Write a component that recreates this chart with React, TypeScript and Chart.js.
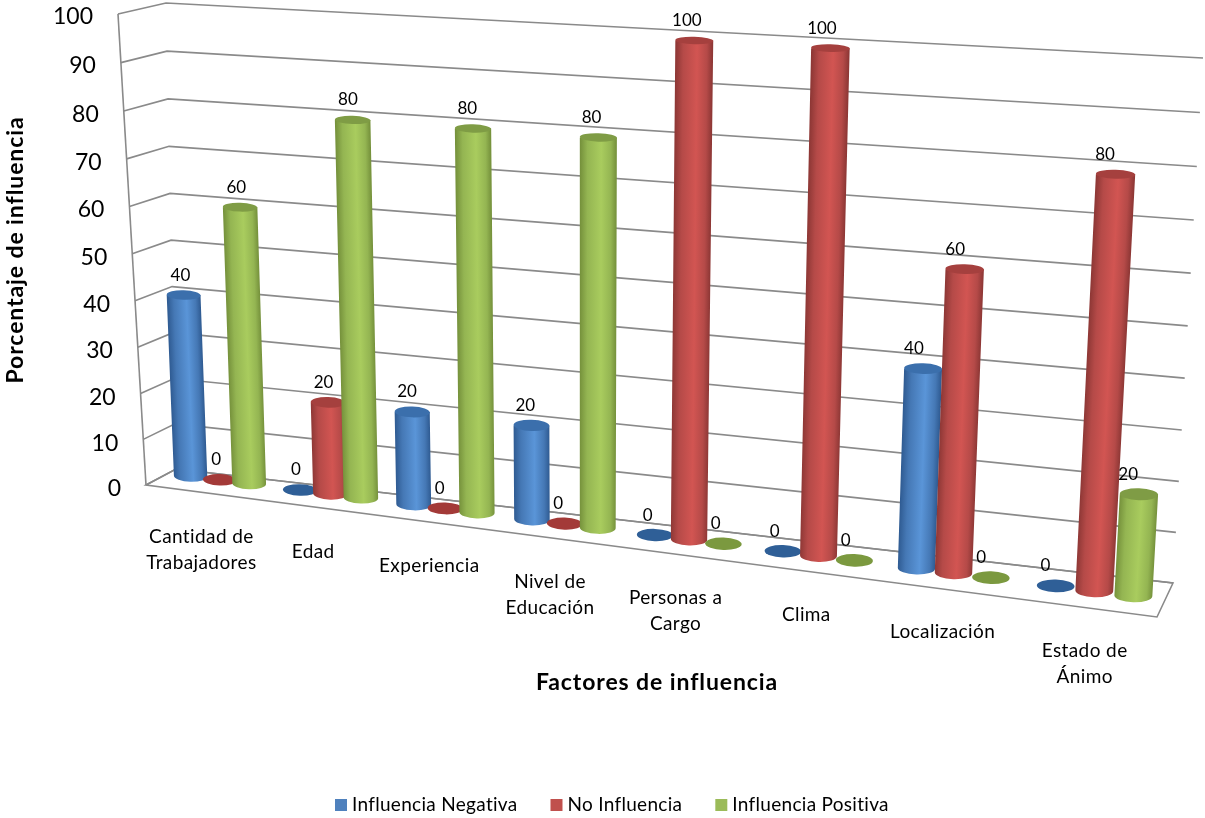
import React, { useEffect, useRef } from "react";
import { Chart, registerables, BarController } from "chart.js";

const categories = [
  ["Cantidad de", "Trabajadores"],
  ["Edad"],
  ["Experiencia"],
  ["Nivel de", "Educación"],
  ["Personas a", "Cargo"],
  ["Clima"],
  ["Localización"],
  ["Estado de", "Ánimo"],
];
const influenciaNegativa = [40, 0, 20, 20, 0, 0, 40, 0];
const noInfluencia = [0, 20, 0, 0, 100, 100, 60, 80];
const influenciaPositiva = [60, 80, 80, 80, 0, 0, 0, 20];

const TEXT_FONT = "Lato";
type Pt = [number, number];

// Unit square to quadrilateral homography; corners run (0,0), (1,0), (1,1), (0,1).
function makeProjection(q: Pt[]) {
  const [[x0, y0], [x1, y1], [x2, y2], [x3, y3]] = q;
  const dx1 = x1 - x2, dx2 = x3 - x2, sx = x0 - x1 + x2 - x3;
  const dy1 = y1 - y2, dy2 = y3 - y2, sy = y0 - y1 + y2 - y3;
  const det = dx1 * dy2 - dx2 * dy1;
  const g = (sx * dy2 - dx2 * sy) / det;
  const h = (dx1 * sy - sx * dy1) / det;
  const a = x1 - x0 + g * x1, b = x3 - x0 + h * x3, c = x0;
  const d = y1 - y0 + g * y1, e = y3 - y0 + h * y3, f = y0;
  return (u: number, v: number): Pt => {
    const w = g * u + h * v + 1;
    return [(a * u + b * v + c) / w, (d * u + e * v + f) / w];
  };
}

// Planes of the 3D scene: the row of bars, the rear wall, the floor.
const barPlane = makeProjection([[166, 473], [1167, 600], [1198, 69], [147, 9.5]]);
const backWall = makeProjection([[176, 469], [1173, 583], [1203, 58], [166, 3]]);
const floorCorners: Pt[] = [[146, 485], [176, 469], [1173, 583], [1157, 617]];

// Front edge of the left wall, spaced like the rear corner it runs towards.
function frontEdge(v: number): Pt {
  const low = backWall(0, 0);
  const t = (low[1] - backWall(0, v)[1]) / (low[1] - backWall(0, 1)[1]);
  return [146 + (118 - 146) * t, 485 + (14 - 485) * t];
}

// Share of the scene's width at a canvas x, eased for the row's foreshortening.
function rowPosition(chart: any, px: number) {
  const { left, right } = chart.chartArea;
  const u = (px - left) / (right - left);
  return u / (1 + 0.02 * (1 - u));
}

function barToScreen(chart: any, px: number, py: number): Pt {
  const { top, bottom } = chart.chartArea;
  return barPlane(rowPosition(chart, px), (bottom - py) / (bottom - top));
}

function drawCylinder(ctx: CanvasRenderingContext2D, chart: any, rect: any, ds: any) {
  const { x, y, base, width } = rect;
  const level = (chart.chartArea.bottom - y) / (chart.chartArea.bottom - chart.chartArea.top);
  const tilt = 0.03;
  const u = rowPosition(chart, x);
  const girth = 1.06 - 0.12 * u - 0.06 * u * u;
  const t = barToScreen(chart, x, y);
  const tl = barToScreen(chart, x - width / 2, y);
  const tr = barToScreen(chart, x + width / 2, y);
  const rxTop = (girth * Math.hypot(tr[0] - tl[0], tr[1] - tl[1])) / 2;
  const ryTop = rxTop * (0.34 - 0.14 * level);

  if (Math.abs(y - base) < 0.5) {
    ctx.fillStyle = ds.flatColor;
    ctx.beginPath();
    ctx.ellipse(t[0], t[1], rxTop, ryTop, tilt, 0, Math.PI * 2);
    ctx.fill();
    return;
  }

  const b = barToScreen(chart, x, base);
  const bl = barToScreen(chart, x - width / 2, base);
  const br = barToScreen(chart, x + width / 2, base);
  const rxBot = (girth * Math.hypot(br[0] - bl[0], br[1] - bl[1])) / 2;
  const ryBot = rxBot * 0.34;

  ctx.save();
  ctx.beginPath();
  ctx.moveTo(t[0] - rxTop, t[1]);
  ctx.lineTo(b[0] - rxBot, b[1]);
  ctx.ellipse(b[0], b[1], rxBot, ryBot, tilt, Math.PI, 0, true);
  ctx.lineTo(t[0] + rxTop, t[1]);
  ctx.closePath();
  ctx.clip();

  // Shear the shading so it leans with the cylinder's axis.
  const lean = (t[0] - b[0]) / (t[1] - b[1]);
  ctx.transform(1, 0, lean, 1, -lean * b[1], 0);
  const grad = ctx.createLinearGradient(b[0] - rxBot, 0, b[0] + rxBot, 0);
  grad.addColorStop(0, ds.edgeColor);
  grad.addColorStop(0.2, ds.midColor);
  grad.addColorStop(0.58, ds.lightColor);
  grad.addColorStop(0.85, ds.midColor);
  grad.addColorStop(1, ds.edgeColor);
  ctx.fillStyle = grad;
  ctx.fillRect(b[0] - rxBot - 8, t[1] - 10, 2 * rxBot + 16, b[1] - t[1] + ryBot + 20);
  ctx.restore();

  ctx.fillStyle = ds.capColor;
  ctx.beginPath();
  ctx.ellipse(t[0], t[1], rxTop, ryTop, tilt, 0, Math.PI * 2);
  ctx.fill();
}

// Bar controller whose rectangles come out as cylinders standing in the scene.
// Chart.js walks datasets last to first, so the first one paints the whole row
// in dataset order and later series overlap earlier ones.
class CylinderController extends (BarController as any) {
  static id = "cylinderBar";
  static defaults = BarController.defaults;
  static overrides = BarController.overrides;
  draw() {
    const self = this as any;
    if (self.index !== 0) return;
    const chart = self.chart;
    chart.data.datasets.forEach((ds: any, di: number) => {
      chart.getDatasetMeta(di).data.forEach((rect: any) => drawCylinder(chart.ctx, chart, rect, ds));
    });
  }
}

const polyline = (ctx: CanvasRenderingContext2D, pts: Pt[], close = false) => {
  ctx.beginPath();
  pts.forEach((p, i) => (i ? ctx.lineTo(p[0], p[1]) : ctx.moveTo(p[0], p[1])));
  if (close) ctx.closePath();
  ctx.stroke();
};

const scenePlugin = {
  id: "scene",
  beforeDatasetsDraw(chart: any) {
    const { ctx } = chart;
    const yScale = chart.scales.y;
    ctx.save();
    ctx.strokeStyle = "#8a8a8a";
    ctx.lineWidth = 1.6;
    yScale.ticks.forEach((tick: any) => {
      const v = tick.value / yScale.max;
      polyline(ctx, [frontEdge(v), backWall(0, v), backWall(1, v)]);
    });
    polyline(ctx, [frontEdge(1), frontEdge(0)]);
    polyline(ctx, floorCorners, true);
    ctx.restore();
  },
  afterDatasetsDraw(chart: any) {
    const { ctx } = chart;
    const yScale = chart.scales.y;
    const xScale = chart.scales.x;
    ctx.save();

    // Value tick labels follow the slanted front edge of the left wall.
    ctx.fillStyle = "#000";
    ctx.font = `23px ${TEXT_FONT}`;
    ctx.textAlign = "right";
    ctx.textBaseline = "middle";
    yScale.ticks.forEach((tick: any) => {
      const p = frontEdge(tick.value / yScale.max);
      ctx.fillText(String(tick.value), p[0] - 25, p[1] + 4 - tick.value / 100);
    });

    // Category labels hang below the floor.
    ctx.font = `19px ${TEXT_FONT}`;
    (ctx as any).letterSpacing = "0.4px";
    ctx.textAlign = "center";
    categories.forEach((lines, i) => {
      const px = xScale.getPixelForValue(i);
      const p = barToScreen(chart, px, yScale.bottom);
      const u = rowPosition(chart, px);
      lines.forEach((line, k) => ctx.fillText(line, p[0] - 19 + 10 * u, p[1] + 57 + 3 * u + k * 26));
    });
    (ctx as any).letterSpacing = "0px";

    // Values over each cylinder.
    ctx.font = `17px ${TEXT_FONT}`;
    chart.data.datasets.forEach((ds: any, di: number) => {
      chart.getDatasetMeta(di).data.forEach((rect: any, i: number) => {
        const p = barToScreen(chart, rect.x, rect.y);
        const u = rowPosition(chart, rect.x);
        ctx.fillText(String(ds.data[i]), p[0] - 3 - 8 * u, p[1] - 20);
      });
    });

    // Axis titles.
    ctx.font = `bold 23px ${TEXT_FONT}`;
    (ctx as any).letterSpacing = "0.9px";
    ctx.fillText("Factores de influencia", 657, 683);
    ctx.save();
    ctx.translate(16, 250);
    ctx.rotate(-Math.PI / 2);
    ctx.fillText("Porcentaje de influencia", 0, 0);
    ctx.restore();

    // Legend row.
    ctx.font = `19px ${TEXT_FONT}`;
    (ctx as any).letterSpacing = "0.3px";
    ctx.textAlign = "left";
    let x = 335;
    chart.data.datasets.forEach((ds: any) => {
      ctx.fillStyle = ds.backgroundColor;
      ctx.fillRect(x, 799, 12, 12);
      ctx.fillStyle = "#000";
      ctx.fillText(ds.label, x + 17, 805);
      x += 17 + ctx.measureText(ds.label).width + 33;
    });
    ctx.restore();
  },
};

Chart.register(...registerables, CylinderController as any);

export default function App() {
  const ref = useRef<HTMLCanvasElement | null>(null);
  useEffect(() => {
    const chart = new Chart(ref.current as HTMLCanvasElement, {
      type: "cylinderBar" as any,
      data: {
        labels: categories as any,
        datasets: [
          {
            label: "Influencia Negativa", data: influenciaNegativa,
            backgroundColor: "#4f81bd", flatColor: "#2f5f97", capColor: "#3b6fac",
            edgeColor: "#2f5b92", midColor: "#4578b5", lightColor: "#5a95d8",
          },
          {
            label: "No Influencia", data: noInfluencia,
            backgroundColor: "#c0504d", flatColor: "#a33a38", capColor: "#a5403e",
            edgeColor: "#8f3836", midColor: "#b54a48", lightColor: "#d25552",
          },
          {
            label: "Influencia Positiva", data: influenciaPositiva,
            backgroundColor: "#9bbb59", flatColor: "#7b993f", capColor: "#7f9c45",
            edgeColor: "#76923c", midColor: "#94b552", lightColor: "#a9cc5e",
          },
        ] as any,
      },
      options: {
        responsive: false,
        animation: false,
        layout: { padding: 0 },
        datasets: { cylinderBar: { categoryPercentage: 0.81, barPercentage: 1.08 } } as any,
        scales: {
          x: { type: "category", display: false },
          y: { type: "linear", display: false, min: 0, max: 100, ticks: { stepSize: 10 } },
        },
        plugins: {
          tooltip: { enabled: false },
          title: { display: false },
          legend: { display: false },
        },
      },
      plugins: [scenePlugin],
    } as any);
    return () => chart.destroy();
  }, []);
  return (
    <div style={{ position: "fixed", left: 0, top: 0, width: 1205, height: 818, background: "#fff" }}>
      <canvas ref={ref} width={1205} height={818} style={{ display: "block" }} />
    </div>
  );
}
